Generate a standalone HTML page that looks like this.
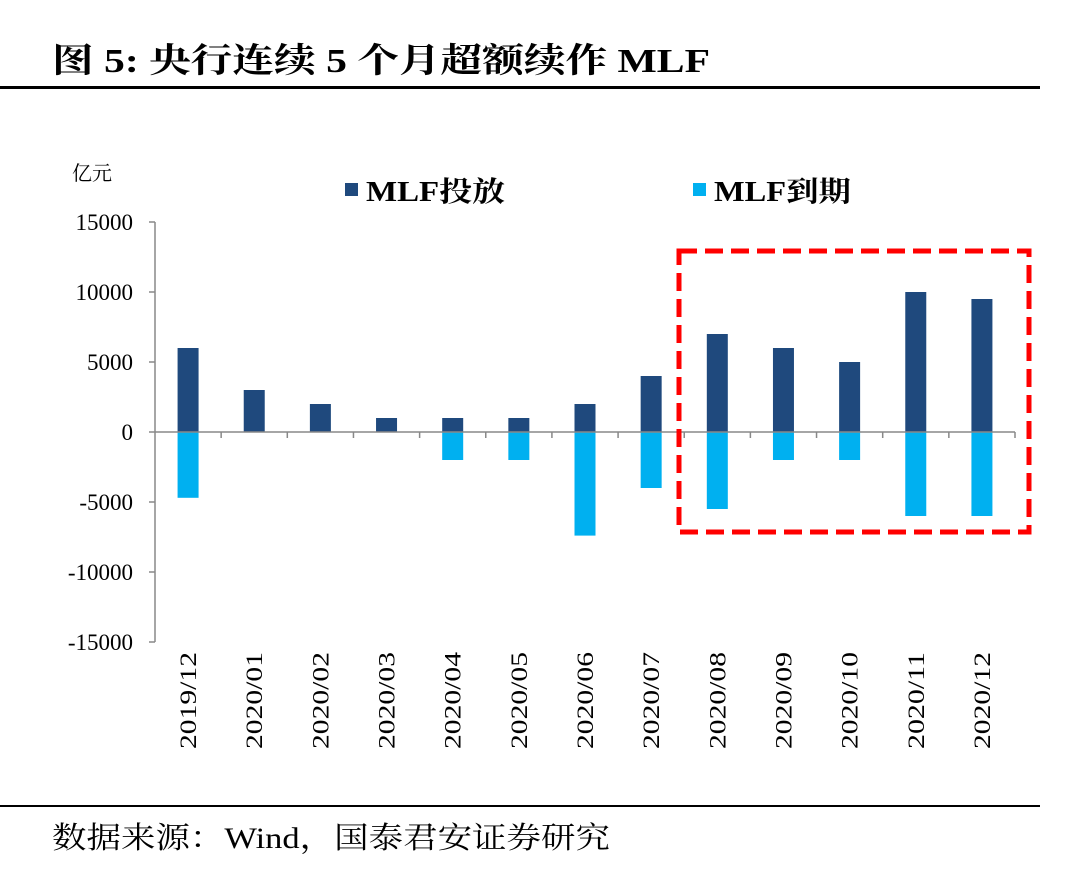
<!DOCTYPE html>
<html><head><meta charset="utf-8"><style>
body{margin:0;background:#fff;}
svg text{font-family:"Liberation Serif","Noto Serif CJK SC",serif;}
</style></head><body>
<svg width="1080" height="881" viewBox="0 0 1080 881">
<text x="52" y="72" font-size="34" font-weight="bold" fill="#000" textLength="658" lengthAdjust="spacingAndGlyphs">图 5:  央行连续 5 个月超额续作 MLF</text>
<rect x="0" y="86" width="1040" height="3" fill="#000"/>
<rect x="0" y="805" width="1040" height="2" fill="#000"/>
<text x="52" y="848" font-size="30" fill="#000" textLength="558" lengthAdjust="spacingAndGlyphs">数据来源：Wind，国泰君安证券研究</text>
<text x="72" y="180" font-size="20" fill="#000">亿元</text>
<rect x="345" y="183" width="13" height="13" fill="#1F497D"/>
<text x="366" y="201" font-size="28" font-weight="bold" textLength="139" lengthAdjust="spacingAndGlyphs">MLF投放</text>
<rect x="693" y="183" width="13" height="13" fill="#00B0F0"/>
<text x="714" y="201" font-size="28" font-weight="bold" textLength="137" lengthAdjust="spacingAndGlyphs">MLF到期</text>
<g id="plot"></g>
<rect x="679" y="251" width="350" height="281" fill="none" stroke="#FF0000" stroke-width="5" stroke-dasharray="18,8"/>
</svg>
<script>
const categories=["2019/12","2020/01","2020/02","2020/03","2020/04","2020/05","2020/06","2020/07","2020/08","2020/09","2020/10","2020/11","2020/12"];
const issueValues=[6000,3000,2000,1000,1000,1000,2000,4000,7000,6000,5000,10000,9500];
const maturityValues=[-4700,0,0,0,-2000,-2000,-7400,-4000,-5500,-2000,-2000,-6000,-6000];
const yTicks=[15000,10000,5000,0,-5000,-10000,-15000];
const ns="http://www.w3.org/2000/svg";
const g=document.getElementById('plot');
const x0=155,x1=1015,yTop=222,yBot=642;
const y=v=>yTop+(15000-v)/30000*(yBot-yTop);
const step=(x1-x0)/categories.length;
const cx=i=>x0+step*(i+0.5);
function mk(t,a){const e=document.createElementNS(ns,t);for(const k in a)e.setAttribute(k,a[k]);g.appendChild(e);return e;}
let ax=mk('line',{x1:x0,y1:yTop,x2:x0,y2:yBot,stroke:'#888','stroke-width':1.5});


yTicks.forEach(v=>{
 const t=mk('line',{x1:x0-6,y1:y(v),x2:x0,y2:y(v),stroke:'#888','stroke-width':1.5});
 
 
 const l=mk('text',{x:x0-22,y:y(v)+8,'text-anchor':'end','font-size':23});
 l.textContent=v;
 
 
});
categories.forEach((c,i)=>{
 const w=21;
 const b1=mk('rect',{x:cx(i)-w/2,y:y(issueValues[i]),width:w,height:y(0)-y(issueValues[i]),fill:'#1F497D'});
 
 
 const b2=mk('rect',{x:cx(i)-w/2,y:y(0),width:w,height:y(maturityValues[i])-y(0),fill:'#00B0F0'});
 
 
 const tk=mk('line',{x1:x0+step*(i+1),y1:y(0),x2:x0+step*(i+1),y2:y(0)+6,stroke:'#888','stroke-width':1.5});
 
 
 const l=mk('text',{x:0,y:0,'text-anchor':'end','font-size':23,textLength:97,lengthAdjust:'spacingAndGlyphs',transform:`translate(${cx(i)+8},652) rotate(-90)`});
 l.textContent=c;
 
 
});
const zx=mk('line',{x1:x0,y1:y(0),x2:x1,y2:y(0),stroke:'#888','stroke-width':1.5});


</script>
</body></html>
